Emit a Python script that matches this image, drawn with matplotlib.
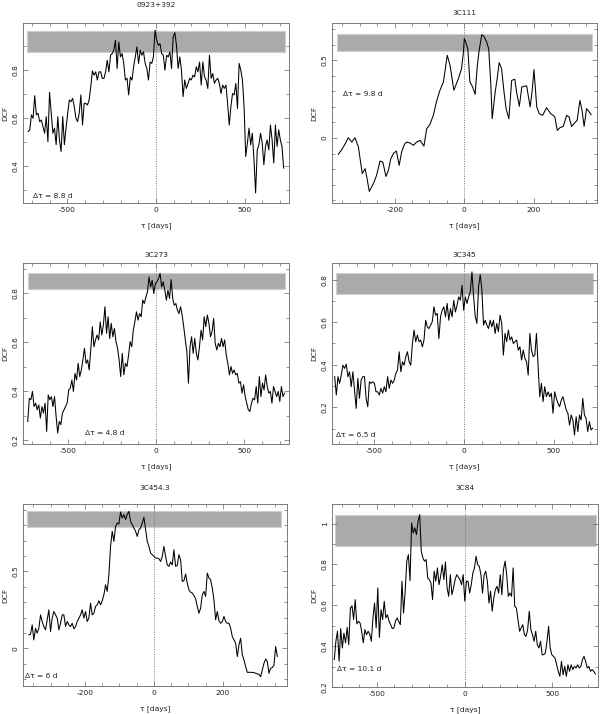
import numpy as np
import matplotlib
matplotlib.use("Agg")
import matplotlib.pyplot as plt
from matplotlib.ticker import MultipleLocator, FuncFormatter

# DCF curves (lag in days, DCF value)
dcf_0923 = [0.545, 0.552, 0.614, 0.600, 0.694, 0.614, 0.621, 0.586, 0.593, 0.566,
            0.538, 0.607, 0.503, 0.708, 0.621, 0.538, 0.559, 0.490, 0.607, 0.510,
            0.462, 0.607, 0.490, 0.559, 0.621, 0.676, 0.669, 0.683, 0.648, 0.600,
            0.586, 0.621, 0.697, 0.572, 0.662, 0.662, 0.655, 0.676, 0.731, 0.797,
            0.779, 0.793, 0.759, 0.793, 0.793, 0.766, 0.766, 0.793, 0.841, 0.793,
            0.862, 0.869, 0.883, 0.924, 0.807, 0.917, 0.855, 0.869, 0.828, 0.759,
            0.766, 0.697, 0.772, 0.759, 0.814, 0.855, 0.897, 0.828, 0.883, 0.862,
            0.876, 0.828, 0.807, 0.759, 0.834, 0.828, 0.855, 0.966, 0.924, 0.903,
            0.910, 0.869, 0.862, 0.800, 0.862, 0.855, 0.876, 0.807, 0.938, 0.956,
            0.903, 0.807, 0.855, 0.800, 0.690, 0.759, 0.724, 0.745, 0.766, 0.759,
            0.779, 0.772, 0.814, 0.793, 0.834, 0.738, 0.834, 0.772, 0.759, 0.724,
            0.862, 0.766, 0.786, 0.745, 0.759, 0.766, 0.745, 0.703, 0.738, 0.724,
            0.738, 0.662, 0.572, 0.648, 0.703, 0.697, 0.745, 0.641, 0.828, 0.800,
            0.759, 0.648, 0.441, 0.497, 0.559, 0.490, 0.538, 0.428, 0.290, 0.469,
            0.490, 0.538, 0.497, 0.407, 0.483, 0.510, 0.469, 0.572, 0.510, 0.414,
            0.572, 0.483, 0.552, 0.510, 0.483, 0.393]
lag_range_0923 = (-721, 720)

lags_3c111 = [-362, -352, -343, -333, -323, -314, -304, -300, -293, -285,
              -280, -273, -266, -259, -252, -242, -234, -225, -218, -211,
              -203, -195, -187, -180, -172, -166, -156, -146, -137, -127,
              -116, -108, -99, -89, -79, -70, -60, -49, -41, -30,
              -17, -8, -3, 0, 4, 10, 16, 24, 31, 37,
              42, 50, 56, 64, 70, 76, 80, 88, 95, 100,
              107, 114, 120, 128, 136, 145, 150, 158, 165, 171,
              179, 189, 195, 200, 208, 215, 225, 236, 248, 255,
              260, 267, 275, 284, 294, 301, 308, 315, 324, 332,
              338, 344, 351, 359, 364]
dcf_3c111 = [-0.105, -0.075, -0.041, 0.002, -0.026, 0.002, -0.058, -0.122, -0.229, -0.197,
             -0.251, -0.343, -0.315, -0.283, -0.240, -0.148, -0.155, -0.247, -0.208, -0.133,
             -0.097, -0.084, -0.176, -0.090, -0.041, -0.026, -0.032, -0.047, -0.026, -0.015,
             -0.052, 0.060, 0.086, 0.146, 0.242, 0.307, 0.361, 0.532, 0.468, 0.307,
             0.382, 0.446, 0.543, 0.639, 0.618, 0.575, 0.361, 0.328, 0.281, 0.457,
             0.554, 0.665, 0.655, 0.618, 0.575, 0.350, 0.124, 0.285, 0.393, 0.485,
             0.446, 0.296, 0.189, 0.124, 0.371, 0.378, 0.296, 0.204, 0.328, 0.333,
             0.335, 0.200, 0.307, 0.440, 0.200, 0.157, 0.146, 0.195, 0.157, 0.146,
             0.135, 0.049, 0.067, 0.075, 0.146, 0.135, 0.075, 0.092, 0.114, 0.242,
             0.178, 0.075, 0.189, 0.167, 0.150]

dcf_3c273 = [0.276, 0.371, 0.365, 0.399, 0.337, 0.351, 0.324, 0.344, 0.290, 0.337,
             0.310, 0.351, 0.235, 0.385, 0.365, 0.378, 0.337, 0.378, 0.297, 0.229,
             0.276, 0.263, 0.310, 0.324, 0.337, 0.351, 0.405, 0.412, 0.446, 0.399,
             0.473, 0.446, 0.514, 0.460, 0.487, 0.528, 0.576, 0.514, 0.528, 0.487,
             0.569, 0.664, 0.582, 0.610, 0.630, 0.610, 0.684, 0.630, 0.671, 0.746,
             0.637, 0.705, 0.616, 0.678, 0.623, 0.657, 0.603, 0.576, 0.528, 0.460,
             0.555, 0.467, 0.514, 0.501, 0.548, 0.603, 0.582, 0.650, 0.684, 0.725,
             0.691, 0.718, 0.705, 0.773, 0.759, 0.786, 0.807, 0.868, 0.827, 0.854,
             0.800, 0.841, 0.848, 0.861, 0.882, 0.827, 0.848, 0.814, 0.773, 0.814,
             0.780, 0.857, 0.780, 0.752, 0.759, 0.732, 0.718, 0.746, 0.712, 0.664,
             0.610, 0.562, 0.433, 0.582, 0.623, 0.555, 0.616, 0.555, 0.528, 0.582,
             0.650, 0.610, 0.705, 0.664, 0.712, 0.678, 0.623, 0.644, 0.698, 0.596,
             0.569, 0.596, 0.582, 0.616, 0.582, 0.610, 0.548, 0.514, 0.467, 0.501,
             0.473, 0.487, 0.467, 0.473, 0.433, 0.439, 0.392, 0.426, 0.378, 0.351,
             0.324, 0.317, 0.351, 0.371, 0.365, 0.419, 0.351, 0.460, 0.378, 0.433,
             0.405, 0.467, 0.419, 0.392, 0.399, 0.351, 0.419, 0.399, 0.378, 0.399,
             0.358, 0.419, 0.378, 0.392]
lag_range_3c273 = (-726, 728)

dcf_3c345 = [0.344, 0.258, 0.344, 0.313, 0.352, 0.398, 0.383, 0.403, 0.344, 0.367,
             0.297, 0.367, 0.281, 0.195, 0.336, 0.242, 0.328, 0.344, 0.344, 0.242,
             0.203, 0.320, 0.313, 0.320, 0.313, 0.273, 0.273, 0.258, 0.289, 0.266,
             0.297, 0.273, 0.344, 0.289, 0.328, 0.313, 0.328, 0.359, 0.375, 0.461,
             0.367, 0.414, 0.398, 0.438, 0.461, 0.414, 0.398, 0.500, 0.563, 0.508,
             0.539, 0.508, 0.516, 0.484, 0.516, 0.609, 0.578, 0.570, 0.586, 0.602,
             0.672, 0.633, 0.641, 0.523, 0.625, 0.656, 0.672, 0.625, 0.688, 0.609,
             0.664, 0.625, 0.703, 0.648, 0.680, 0.719, 0.703, 0.773, 0.656, 0.719,
             0.688, 0.719, 0.742, 0.836, 0.719, 0.625, 0.594, 0.766, 0.823, 0.750,
             0.586, 0.609, 0.586, 0.570, 0.609, 0.578, 0.609, 0.547, 0.594, 0.555,
             0.633, 0.594, 0.445, 0.547, 0.508, 0.563, 0.516, 0.531, 0.500, 0.508,
             0.516, 0.469, 0.484, 0.422, 0.469, 0.430, 0.414, 0.352, 0.547, 0.469,
             0.438, 0.445, 0.547, 0.391, 0.250, 0.313, 0.227, 0.297, 0.250, 0.273,
             0.250, 0.266, 0.172, 0.273, 0.242, 0.219, 0.203, 0.234, 0.250, 0.219,
             0.188, 0.172, 0.117, 0.164, 0.141, 0.070, 0.156, 0.086, 0.164, 0.141,
             0.242, 0.164, 0.148, 0.086, 0.133, 0.094, 0.102]
lag_range_3c345 = (-722, 717)

dcf_3c454 = [0.087, 0.091, 0.152, 0.054, 0.130, 0.098, 0.130, 0.217, 0.174, 0.141,
             0.120, 0.185, 0.250, 0.109, 0.196, 0.239, 0.217, 0.196, 0.120, 0.163,
             0.217, 0.217, 0.141, 0.174, 0.152, 0.141, 0.163, 0.126, 0.141, 0.174,
             0.196, 0.217, 0.250, 0.196, 0.239, 0.174, 0.196, 0.293, 0.217, 0.228,
             0.272, 0.283, 0.309, 0.283, 0.309, 0.348, 0.413, 0.370, 0.478, 0.663,
             0.761, 0.696, 0.793, 0.815, 0.809, 0.887, 0.848, 0.870, 0.837, 0.870,
             0.891, 0.826, 0.804, 0.783, 0.761, 0.728, 0.772, 0.783, 0.815, 0.852,
             0.772, 0.696, 0.663, 0.620, 0.609, 0.598, 0.587, 0.587, 0.583, 0.565,
             0.598, 0.663, 0.598, 0.543, 0.533, 0.561, 0.543, 0.641, 0.533, 0.539,
             0.609, 0.576, 0.435, 0.439, 0.483, 0.424, 0.380, 0.365, 0.359, 0.343,
             0.322, 0.272, 0.228, 0.261, 0.348, 0.370, 0.337, 0.489, 0.457, 0.446,
             0.391, 0.315, 0.185, 0.239, 0.178, 0.163, 0.174, 0.207, 0.174, 0.163,
             0.163, 0.130, 0.076, 0.054, 0.033, -0.054, 0.022, 0.065, -0.043, -0.076,
             -0.120, -0.157, -0.157, -0.157, -0.157, -0.159, -0.163, -0.167, -0.170, -0.185,
             -0.141, -0.098, -0.070, -0.087, -0.163, -0.130, -0.126, -0.109, 0.011, -0.054]
lag_range_3c454 = (-363, 358)

dcf_3c84 = [0.334, 0.424, 0.473, 0.326, 0.486, 0.391, 0.464, 0.416, 0.492, 0.407,
            0.587, 0.598, 0.530, 0.628, 0.509, 0.522, 0.513, 0.473, 0.416, 0.481,
            0.456, 0.473, 0.460, 0.424, 0.538, 0.611, 0.489, 0.685, 0.443, 0.579,
            0.530, 0.620, 0.538, 0.554, 0.522, 0.505, 0.486, 0.489, 0.522, 0.538,
            0.522, 0.505, 0.718, 0.562, 0.669, 0.816, 0.848, 0.721, 1.003, 0.954,
            0.979, 0.946, 1.011, 1.044, 0.864, 0.832, 0.816, 0.824, 0.734, 0.726,
            0.709, 0.628, 0.767, 0.718, 0.783, 0.701, 0.742, 0.799, 0.726, 0.812,
            0.685, 0.644, 0.750, 0.652, 0.685, 0.726, 0.750, 0.737, 0.726, 0.701,
            0.750, 0.620, 0.718, 0.718, 0.660, 0.701, 0.758, 0.783, 0.840, 0.799,
            0.791, 0.750, 0.660, 0.750, 0.767, 0.718, 0.611, 0.669, 0.571, 0.636,
            0.677, 0.693, 0.660, 0.750, 0.652, 0.775, 0.816, 0.750, 0.644, 0.660,
            0.644, 0.783, 0.595, 0.587, 0.530, 0.473, 0.489, 0.505, 0.456, 0.448,
            0.481, 0.571, 0.481, 0.456, 0.424, 0.473, 0.407, 0.391, 0.424, 0.358,
            0.358, 0.367, 0.424, 0.497, 0.391, 0.358, 0.350, 0.342, 0.309, 0.277,
            0.252, 0.326, 0.260, 0.301, 0.252, 0.309, 0.277, 0.309, 0.285, 0.301,
            0.293, 0.309, 0.293, 0.301, 0.334, 0.350, 0.326, 0.293, 0.301, 0.277,
            0.285, 0.277, 0.264]
lag_range_3c84 = (-742, 744)

# significance bands (DCF low, high) and lag extent
bands = {
    "0923+392": ((0.876, 0.963), (-727, 727)),
    "3C111": ((0.558, 0.667), (-365, 367)),
    "3C273": ((0.819, 0.882), (-727, 728)),
    "3C345": ((0.731, 0.833), (-717, 721)),
    "3C454.3": ((0.787, 0.891), (-368, 369)),
    "3C84": ((0.892, 1.044), (-736, 748)),
}
bin_labels = {"0923+392": "8.8", "3C111": "9.8", "3C273": "4.8",
              "3C345": "6.5", "3C454.3": "6", "3C84": "10.1"}


def lag_grid(rng, vals):
    return np.linspace(rng[0], rng[1], len(vals))


panels = [
    dict(name="0923+392", x=lag_grid(lag_range_0923, dcf_0923), y=dcf_0923,
         pos=[0.0383, 0.7157, 0.4433, 0.2521], xlim=(-750, 750), ylim=(0.248, 0.996),
         xt=(500, 100), yt=(0.2, 0.1), txt=(-693, 0.276), title_y=0.993),
    dict(name="3C111", x=np.array(lags_3c111), y=dcf_3c111,
         pos=[0.5533, 0.7157, 0.4417, 0.2521], xlim=(-380, 381), ylim=(-0.418, 0.74),
         xt=(200, 50), yt=(0.5, 0.1), txt=(-347, 0.28), title_y=0.982),
    dict(name="3C273", x=lag_grid(lag_range_3c273, dcf_3c273), y=dcf_3c273,
         pos=[0.0383, 0.3782, 0.4433, 0.2535], xlim=(-753, 753), ylim=(0.184, 0.925),
         xt=(500, 100), yt=(0.2, 0.1), txt=(-400, 0.23), title_y=0.643),
    dict(name="3C345", x=lag_grid(lag_range_3c345, dcf_3c345), y=dcf_3c345,
         pos=[0.5533, 0.3782, 0.4417, 0.2535], xlim=(-737, 741), ylim=(0.028, 0.878),
         xt=(500, 100), yt=(0.2, 0.1), txt=(-713, 0.07), title_y=0.643),
    dict(name="3C454.3", x=lag_grid(lag_range_3c454, dcf_3c454), y=dcf_3c454,
         pos=[0.0383, 0.0392, 0.4400, 0.2549], xlim=(-380, 386), ylim=(-0.246, 0.939),
         xt=(200, 50), yt=(0.5, 0.1), txt=(-373, -0.18), title_y=0.3165),
    dict(name="3C84", x=lag_grid(lag_range_3c84, dcf_3c84), y=dcf_3c84,
         pos=[0.5533, 0.0378, 0.4433, 0.2563], xlim=(-755, 759), ylim=(0.2, 1.096),
         xt=(500, 100), yt=(0.2, 0.1), txt=(-727, 0.29), title_y=0.3165),
]

fmt = FuncFormatter(lambda v, p: "%g" % round(v, 3))
frame_col = "#666666"
fs = 5.4

fig = plt.figure(figsize=(6, 7.14), dpi=100)

for p in panels:
    ax = fig.add_axes(p["pos"])
    (b_lo, b_hi), (b_x0, b_x1) = bands[p["name"]]
    ax.fill_between([b_x0, b_x1], b_lo, b_hi, color="#aaaaaa",
                    edgecolor="#cfcfcf", linewidth=0.8, zorder=1)
    ax.axvline(0, color="#777777", linestyle=(0, (1, 1.5)), linewidth=0.7, zorder=2)
    ax.plot(p["x"], p["y"], color="black", linewidth=0.75, zorder=3)

    ax.set_xlim(*p["xlim"])
    ax.set_ylim(*p["ylim"])
    ax.xaxis.set_major_locator(MultipleLocator(p["xt"][0]))
    ax.xaxis.set_minor_locator(MultipleLocator(p["xt"][1]))
    ax.yaxis.set_major_locator(MultipleLocator(p["yt"][0]))
    ax.yaxis.set_minor_locator(MultipleLocator(p["yt"][1]))
    ax.xaxis.set_major_formatter(fmt)
    ax.yaxis.set_major_formatter(fmt)
    ax.tick_params(which="both", direction="in", top=True, right=True,
                   color=frame_col, width=0.5, labelsize=fs, labelcolor="#222222")
    ax.tick_params(which="major", length=3.5, pad=3)
    ax.tick_params(which="minor", length=2)
    for lbl in ax.get_yticklabels():
        lbl.set_rotation(90)
        lbl.set_va("center")
    for s in ax.spines.values():
        s.set_color(frame_col)
        s.set_linewidth(0.6)

    ax.text(p["txt"][0], p["txt"][1], "Δτ = %s d" % bin_labels[p["name"]],
            fontsize=fs, va="center", ha="left", color="#222222")

    l, b, w, h = p["pos"]
    fig.text(l + w / 2, p["title_y"], p["name"], fontsize=fs, ha="center",
             va="center", color="#222222")
    fig.text(l + w / 2, b - 0.032, "τ [days]", fontsize=fs, ha="center",
             va="center", color="#222222")
    fig.text(l - 0.030, b + h / 2, "DCF", fontsize=fs, ha="center", va="center",
             rotation=90, color="#222222")

fig.savefig("out.png", dpi=100)
